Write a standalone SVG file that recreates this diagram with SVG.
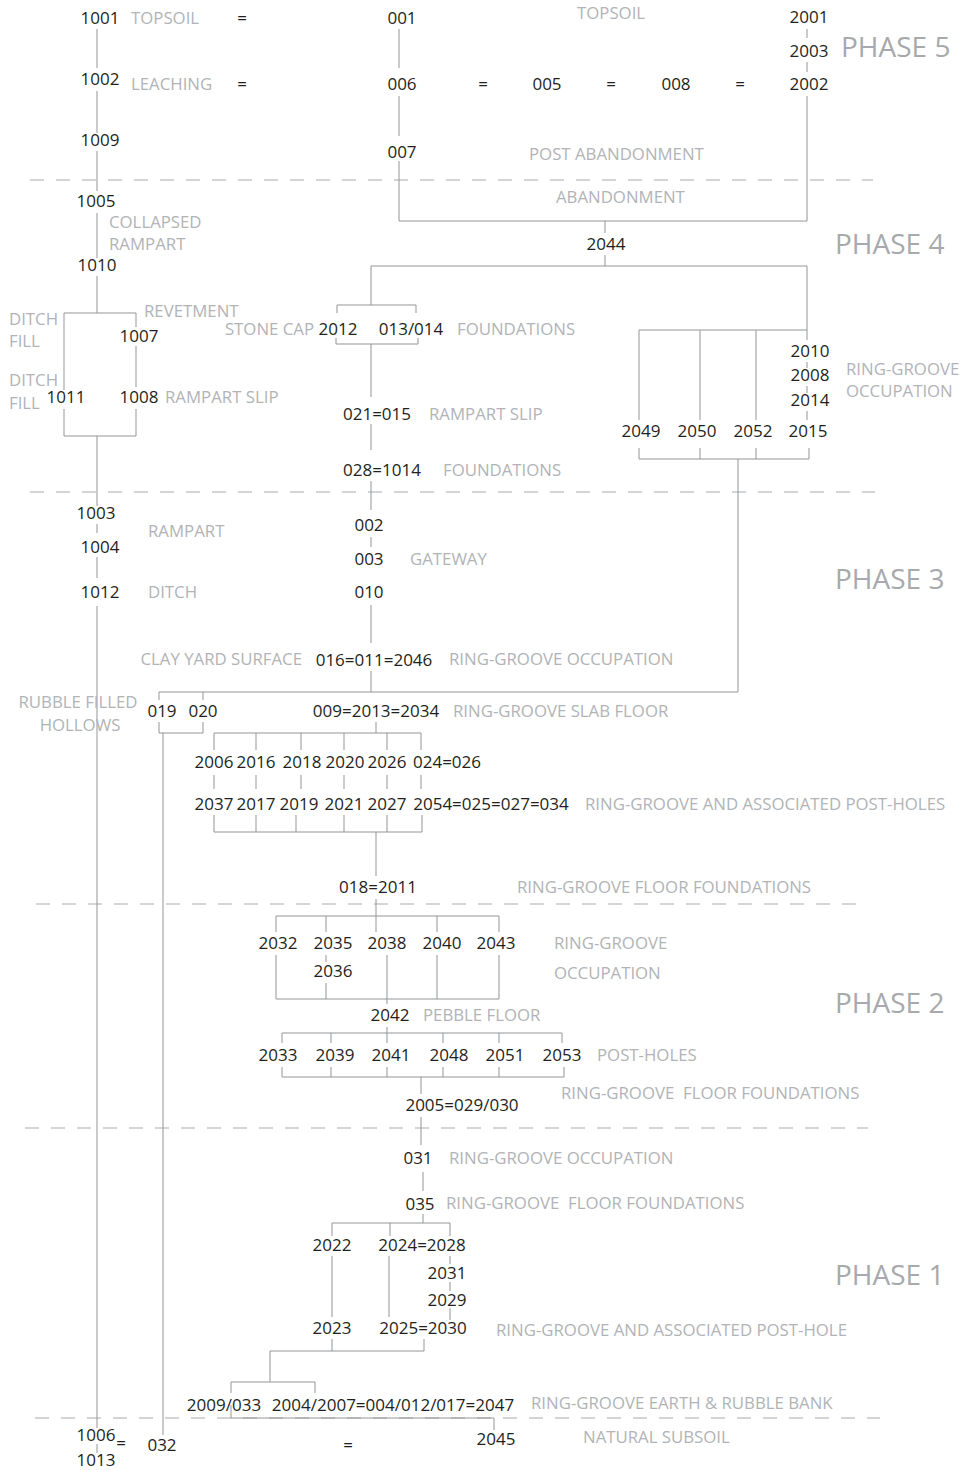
<svg xmlns="http://www.w3.org/2000/svg" width="964" height="1470" viewBox="0 0 964 1470">
<style>
.n{font-family:"Open Sans","Noto Sans","Liberation Sans",sans-serif;font-size:17px;fill:#231f20;text-anchor:middle}
.l{font-family:"Open Sans","Noto Sans","Liberation Sans",sans-serif;font-size:16.8px;fill:#b1b3b6}
.p{font-family:"Open Sans","Noto Sans","Liberation Sans",sans-serif;font-size:28px;fill:#a7a9ac}
.c{fill:none;stroke:#939598;stroke-width:1}
.d{fill:none;stroke:#a7a9ac;stroke-width:1.2;stroke-dasharray:14 12}
</style>
<rect width="964" height="1470" fill="#fff"/>
<g id="phase-lines">
<path class="d" d="M30,180H873M30,492H875M36,904H868M25,1128H868M35,1418H880"/>
</g>
<g id="connectors">
<path class="c" d="M97,29V68M97,91V133M97,151V191M97,213V258M97,276V313M64,390V313H136V327M136,346V387M136,409V436H64V409M97,436V506M97,524V533M97,557V578M97,606V1428M97,1444V1453"/>
<path class="c" d="M163,733V1435M159,722V733H203V722M159,700V692H738V459M203,692V700"/>
<path class="c" d="M399,29V68M399,96V136M399,161V221H807M807,29V38M807,62V72M807,96V221M605,221V233M605,255V266M371,266H807V340M807,362V368M807,386V393M807,411V420"/>
<path class="c" d="M371,266V305M337,313V305H416V313M336,338V344H418V338M371,344V397M371,424V450M371,481V510M371,537V547M371,605V643M371,671V692"/>
<path class="c" d="M639,420V330H807M700,330V420M756,330V420M639,448V459H809V448M700,448V459M756,448V459"/>
<path class="c" d="M376,722V733M214,750V733H421V750M256,733V750M301,733V750M344,733V750M387,733V750M214,775V789M256,775V789M301,775V789M344,775V789M387,775V789M421,775V789M214,815V832H422V815M256,815V832M296,815V832M344,815V832M387,815V832M376,832V876M376,899V932"/>
<path class="c" d="M276,932V916H499V932M326,916V932M437,916V932M326,955V962M276,955V999H499V955M326,983V999M387,955V999M437,955V999M387,999V1004"/>
<path class="c" d="M387,1027V1043M282,1043V1033H562V1043M331,1033V1043M443,1033V1043M499,1033V1043M282,1067V1077H564V1067M331,1067V1077M387,1067V1077M443,1067V1077M499,1067V1077M421,1077V1094M421,1117V1145M423,1172V1191M423,1214V1223M332,1236V1223H450V1236M390,1223V1236"/>
<path class="c" d="M332,1256V1317M389,1256V1317M450,1256V1264M450,1282V1291M450,1308V1320M332,1339V1351M424,1339V1351M270,1351H424M270,1351V1382M231,1393V1382H315V1393M231,1405V1418H494V1430"/>
</g>
<g id="equals">
<text class="n" x="242" y="24">=</text><text class="n" x="242" y="90">=</text><text class="n" x="483" y="90">=</text><text class="n" x="611" y="90">=</text><text class="n" x="740" y="90">=</text><text class="n" x="121" y="1449">=</text><text class="n" x="348" y="1451">=</text>
</g>
<g id="n1001"><text class="n" x="100" y="24">1001</text></g>
<g id="n1002"><text class="n" x="100" y="85">1002</text></g>
<g id="n1009"><text class="n" x="100" y="146">1009</text></g>
<g id="n1005"><text class="n" x="96" y="207">1005</text></g>
<g id="n1010"><text class="n" x="97" y="271">1010</text></g>
<g id="n1007"><text class="n" x="139" y="342">1007</text></g>
<g id="n1011"><text class="n" x="66" y="403">1011</text></g>
<g id="n1008"><text class="n" x="139" y="403">1008</text></g>
<g id="n1003"><text class="n" x="96" y="519">1003</text></g>
<g id="n1004"><text class="n" x="100" y="553">1004</text></g>
<g id="n1012"><text class="n" x="100" y="598">1012</text></g>
<g id="n1006"><text class="n" x="96" y="1441">1006</text></g>
<g id="n1013"><text class="n" x="96" y="1466">1013</text></g>
<g id="n032"><text class="n" x="162" y="1451">032</text></g>
<g id="n001"><text class="n" x="402" y="24">001</text></g>
<g id="n006"><text class="n" x="402" y="90">006</text></g>
<g id="n007"><text class="n" x="402" y="158">007</text></g>
<g id="n005"><text class="n" x="547" y="90">005</text></g>
<g id="n008"><text class="n" x="676" y="90">008</text></g>
<g id="n2001"><text class="n" x="809" y="23">2001</text></g>
<g id="n2003"><text class="n" x="809" y="57">2003</text></g>
<g id="n2002"><text class="n" x="809" y="90">2002</text></g>
<g id="n2044"><text class="n" x="606" y="250">2044</text></g>
<g id="n2012"><text class="n" x="338" y="335">2012</text></g>
<g id="n013"><text class="n" x="411" y="335">013/014</text></g>
<g id="n2010"><text class="n" x="810" y="357">2010</text></g>
<g id="n2008"><text class="n" x="810" y="381">2008</text></g>
<g id="n2014"><text class="n" x="810" y="406">2014</text></g>
<g id="n2049"><text class="n" x="641" y="437">2049</text></g>
<g id="n2050"><text class="n" x="697" y="437">2050</text></g>
<g id="n2052"><text class="n" x="753" y="437">2052</text></g>
<g id="n2015"><text class="n" x="808" y="437">2015</text></g>
<g id="n021"><text class="n" x="377" y="420">021=015</text></g>
<g id="n028"><text class="n" x="382" y="476">028=1014</text></g>
<g id="n002"><text class="n" x="369" y="531">002</text></g>
<g id="n003"><text class="n" x="369" y="565">003</text></g>
<g id="n010"><text class="n" x="369" y="598">010</text></g>
<g id="n016"><text class="n" x="374" y="666">016=011=2046</text></g>
<g id="n019"><text class="n" x="162" y="717">019</text></g>
<g id="n020"><text class="n" x="203" y="717">020</text></g>
<g id="n009"><text class="n" x="376" y="717">009=2013=2034</text></g>
<g id="n2006"><text class="n" x="214" y="768">2006</text></g>
<g id="n2016"><text class="n" x="256" y="768">2016</text></g>
<g id="n2018"><text class="n" x="302" y="768">2018</text></g>
<g id="n2020"><text class="n" x="345" y="768">2020</text></g>
<g id="n2026"><text class="n" x="387" y="768">2026</text></g>
<g id="n024"><text class="n" x="447" y="768">024=026</text></g>
<g id="n2037"><text class="n" x="214" y="810">2037</text></g>
<g id="n2017"><text class="n" x="256" y="810">2017</text></g>
<g id="n2019"><text class="n" x="299" y="810">2019</text></g>
<g id="n2021"><text class="n" x="344" y="810">2021</text></g>
<g id="n2027"><text class="n" x="387" y="810">2027</text></g>
<g id="n2054"><text class="n" x="491" y="810">2054=025=027=034</text></g>
<g id="n018"><text class="n" x="378" y="893">018=2011</text></g>
<g id="n2032"><text class="n" x="278" y="949">2032</text></g>
<g id="n2035"><text class="n" x="333" y="949">2035</text></g>
<g id="n2038"><text class="n" x="387" y="949">2038</text></g>
<g id="n2040"><text class="n" x="442" y="949">2040</text></g>
<g id="n2043"><text class="n" x="496" y="949">2043</text></g>
<g id="n2036"><text class="n" x="333" y="977">2036</text></g>
<g id="n2042"><text class="n" x="390" y="1021">2042</text></g>
<g id="n2033"><text class="n" x="278" y="1061">2033</text></g>
<g id="n2039"><text class="n" x="335" y="1061">2039</text></g>
<g id="n2041"><text class="n" x="391" y="1061">2041</text></g>
<g id="n2048"><text class="n" x="449" y="1061">2048</text></g>
<g id="n2051"><text class="n" x="505" y="1061">2051</text></g>
<g id="n2053"><text class="n" x="562" y="1061">2053</text></g>
<g id="n2005"><text class="n" x="462" y="1111">2005=029/030</text></g>
<g id="n031"><text class="n" x="418" y="1164">031</text></g>
<g id="n035"><text class="n" x="420" y="1210">035</text></g>
<g id="n2022"><text class="n" x="332" y="1251">2022</text></g>
<g id="n2024"><text class="n" x="422" y="1251">2024=2028</text></g>
<g id="n2031"><text class="n" x="447" y="1279">2031</text></g>
<g id="n2029"><text class="n" x="447" y="1306">2029</text></g>
<g id="n2023"><text class="n" x="332" y="1334">2023</text></g>
<g id="n2025"><text class="n" x="423" y="1334">2025=2030</text></g>
<g id="n2009"><text class="n" x="224" y="1411">2009/033</text></g>
<g id="n2004"><text class="n" x="393" y="1411">2004/2007=004/012/017=2047</text></g>
<g id="n2045"><text class="n" x="496" y="1445">2045</text></g>
<g id="labels">
<text class="l" x="131" y="24">TOPSOIL</text>
<text class="l" x="131" y="90">LEACHING</text>
<text class="l" x="577" y="19">TOPSOIL</text>
<text class="l" x="529" y="160">POST ABANDONMENT</text>
<text class="l" x="556" y="203">ABANDONMENT</text>
<text class="l" x="109" y="228">COLLAPSED</text>
<text class="l" x="109" y="250">RAMPART</text>
<text class="l" x="9" y="325">DITCH</text>
<text class="l" x="9" y="347">FILL</text>
<text class="l" x="9" y="386">DITCH</text>
<text class="l" x="9" y="409">FILL</text>
<text class="l" x="144" y="317">REVETMENT</text>
<text class="l" x="314" y="335" text-anchor="end">STONE CAP</text>
<text class="l" x="457" y="335">FOUNDATIONS</text>
<text class="l" x="165" y="403">RAMPART SLIP</text>
<text class="l" x="429" y="420">RAMPART SLIP</text>
<text class="l" x="443" y="476">FOUNDATIONS</text>
<text class="l" x="846" y="375">RING-GROOVE</text>
<text class="l" x="846" y="397">OCCUPATION</text>
<text class="l" x="148" y="537">RAMPART</text>
<text class="l" x="410" y="565">GATEWAY</text>
<text class="l" x="148" y="598">DITCH</text>
<text class="l" x="302" y="665" text-anchor="end">CLAY YARD SURFACE</text>
<text class="l" x="449" y="665">RING-GROOVE OCCUPATION</text>
<text class="l" x="78" y="708" text-anchor="middle">RUBBLE FILLED</text>
<text class="l" x="80" y="731" text-anchor="middle">HOLLOWS</text>
<text class="l" x="453" y="717">RING-GROOVE SLAB FLOOR</text>
<text class="l" x="585" y="810">RING-GROOVE AND ASSOCIATED POST-HOLES</text>
<text class="l" x="517" y="893">RING-GROOVE FLOOR FOUNDATIONS</text>
<text class="l" x="554" y="949">RING-GROOVE</text>
<text class="l" x="554" y="979">OCCUPATION</text>
<text class="l" x="423" y="1021">PEBBLE FLOOR</text>
<text class="l" x="597" y="1061">POST-HOLES</text>
<text class="l" x="561" y="1099" xml:space="preserve">RING-GROOVE  FLOOR FOUNDATIONS</text>
<text class="l" x="449" y="1164">RING-GROOVE OCCUPATION</text>
<text class="l" x="446" y="1209" xml:space="preserve">RING-GROOVE  FLOOR FOUNDATIONS</text>
<text class="l" x="496" y="1336">RING-GROOVE AND ASSOCIATED POST-HOLE</text>
<text class="l" x="531" y="1409">RING-GROOVE EARTH &amp; RUBBLE BANK</text>
<text class="l" x="583" y="1443">NATURAL SUBSOIL</text>
</g>
<g id="phases">
<text class="p" x="841" y="57">PHASE 5</text>
<text class="p" x="835" y="254">PHASE 4</text>
<text class="p" x="835" y="589">PHASE 3</text>
<text class="p" x="835" y="1013">PHASE 2</text>
<text class="p" x="835" y="1285">PHASE 1</text>
</g>
</svg>
